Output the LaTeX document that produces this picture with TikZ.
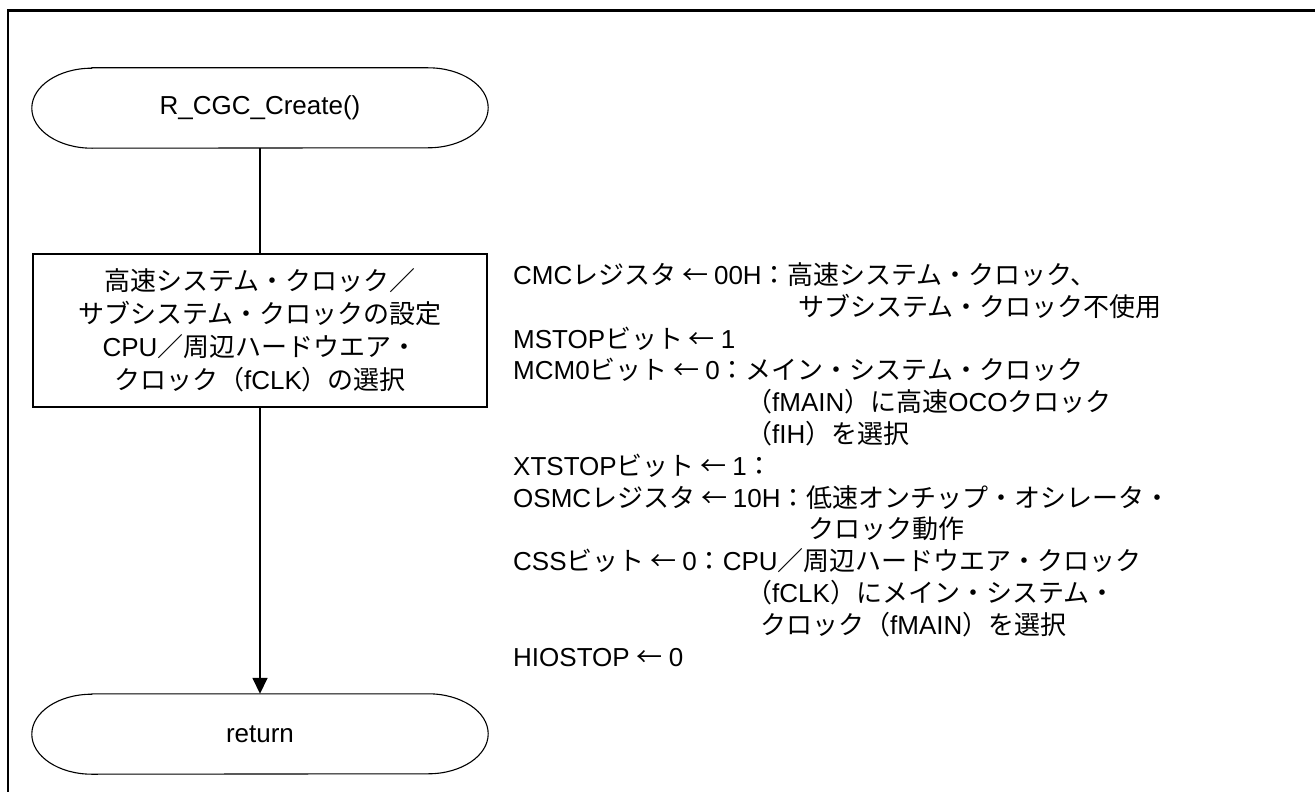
\documentclass[tikz,border=0pt]{standalone}
\usepackage{fontspec}
\setmainfont{Liberation Sans}
\newfontfamily\jp{Noto Sans CJK JP}
\usetikzlibrary{arrows.meta,calc}
\newcommand\TermOutline[1]{%
  \draw[termline] ($(#1.north west)+(60,0)$) -- ($(#1.north east)+(-60,0)$)
    arc[start angle=-90,end angle=90,x radius=60,y radius=40]
    -- ($(#1.south west)+(60,0)$)
    arc[start angle=90,end angle=270,x radius=60,y radius=40] -- cycle;}
\begin{document}
\begin{tikzpicture}[x=1pt,y=-1pt,
  basefont/.style={font=\fontsize{26}{33}\selectfont},
  term/.style={basefont,minimum width=456,minimum height=80,inner sep=0pt},
  termline/.style={line width=1.1pt},
  proc/.style={basefont,draw,line width=1.6pt,minimum width=454,minimum height=153,align=center,inner sep=0pt},
  flow/.style={line width=1.6pt},
  note/.style={font=\fontsize{26}{32}\selectfont,inner sep=0pt,anchor=base west}]
\useasboundingbox (0,0) rectangle (1315,792);
\draw[line width=2.6pt] (8,792) -- (8,10.5) -- (1315,10.5);

\node[term] (start) at (260,108) {R\_CGC\_Create()};
\TermOutline{start}
\node[proc] (box) at (260,330.5) {{\jp 高速システム・クロック／}\\{\jp サブシステム・クロックの設定}\\CPU{\jp ／周辺ハードウエア・}\\{\jp クロック（}fCLK{\jp ）の選択}};
\node[term] (ret) at (260,734) {return};
\TermOutline{ret}

\draw[flow] (start.south) -- (box.north);
\draw[flow,-{Triangle[length=16pt,width=15pt]}] (box.south) -- (ret.north);

\node[note] (r1) at (513,284.5) {CMC{\jp レジスタ ← }00H{\jp ：高速システム・クロック、}};
\node[note] (r2) at (798,316.3) {\jp サブシステム・クロック不使用};
\node[note] (r3) at (513,348.1) {MSTOP{\jp ビット ← }1};
\node[note] (r4) at (513,379.9) {MCM0{\jp ビット ← }0{\jp ：メイン・システム・クロック}};
\node[note] (r5) at (746,411.7) {{\jp （}fMAIN{\jp ）に高速}OCO{\jp クロック}};
\node[note] (r6) at (746,443.5) {{\jp （}fIH{\jp ）を選択}};
\node[note] (r7) at (513,475.3) {XTSTOP{\jp ビット ← }1{\jp ：}};
\node[note] (r8) at (513,507.1) {OSMC{\jp レジスタ ← }10H{\jp ：低速オンチップ・オシレータ・}};
\node[note] (r9) at (808,538.9) {\jp クロック動作};
\node[note] (r10) at (513,570.7) {CSS{\jp ビット ← }0{\jp ：}CPU{\jp ／周辺ハードウエア・クロック}};
\node[note] (r11) at (746,602.5) {{\jp （}fCLK{\jp ）にメイン・システム・}};
\node[note] (r12) at (760,634.3) {{\jp クロック（}fMAIN{\jp ）を選択}};
\node[note] (r13) at (513,666.1) {HIOSTOP {\jp ← }0};
\end{tikzpicture}
\end{document}
